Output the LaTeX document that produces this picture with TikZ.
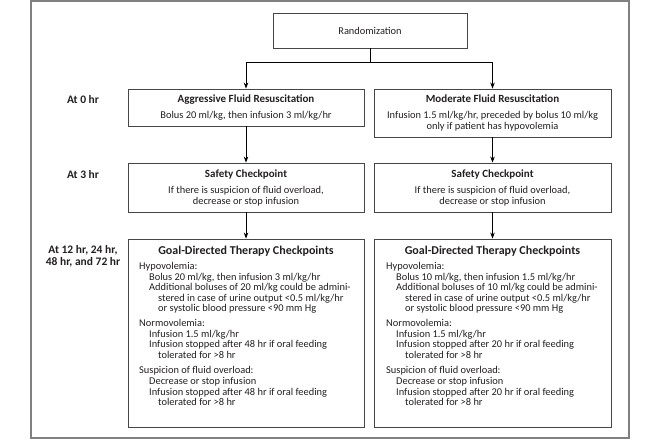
\documentclass[tikz,border=0pt]{standalone}
\usepackage{fontspec}
\setmainfont{Carlito}
\usetikzlibrary{arrows.meta}
\definecolor{framec}{RGB}{128,128,128}
\definecolor{boxc}{RGB}{70,70,70}
\definecolor{txt}{RGB}{35,31,32}
\newcommand{\ttl}[1]{{\fontsize{11}{11}\selectfont\bfseries #1}}
\begin{document}
\begin{tikzpicture}[x=1pt,y=-1pt, font=\fontsize{10.4}{11}\selectfont, text=txt,
  box/.style={draw=boxc, line width=0.9pt, inner sep=0pt, align=center},
  arr/.style={draw=black, line width=0.7pt, -{Stealth[length=6pt,width=4.5pt]}},
  lbl/.style={font=\fontsize{11.5}{12.5}\selectfont\bfseries, align=center, inner sep=0pt},
  gtitle/.style={font=\fontsize{12}{12}\selectfont\bfseries, anchor=base, inner sep=0pt},
  gbody/.style={anchor=north west, align=left, inner sep=0pt, font=\fontsize{10.4}{10.6}\selectfont}]
\useasboundingbox (0,0) rectangle (660,440);
\draw[framec, line width=1.6pt] (31,1) rectangle (629,438);

% top
\node[box, minimum width=194pt, minimum height=35pt] (r) at (370,30.5) {Randomization};
\coordinate (j) at (370,62);

% row 1
\node[box, minimum width=236pt, minimum height=37pt] (a1) at (246,107.5)
  {\ttl{Aggressive Fluid Resuscitation}\\[5pt]Bolus 20 ml/kg, then infusion 3 ml/kg/hr};
\node[box, minimum width=237pt, minimum height=48pt] (b1) at (492.5,113)
  {\ttl{Moderate Fluid Resuscitation}\\[5pt]Infusion 1.5 ml/kg/hr, preceded by bolus 10 ml/kg\\only if patient has hypovolemia};

% row 2
\node[box, minimum width=236pt, minimum height=49pt] (a2) at (246,187.5)
  {\ttl{Safety Checkpoint}\\[5pt]If there is suspicion of fluid overload,\\decrease or stop infusion};
\node[box, minimum width=237pt, minimum height=49pt] (b2) at (492.5,187.5)
  {\ttl{Safety Checkpoint}\\[5pt]If there is suspicion of fluid overload,\\decrease or stop infusion};

% row 3
\node[box, minimum width=236pt, minimum height=188pt] (a3) at (246,333) {};
\node[box, minimum width=237pt, minimum height=188pt] (b3) at (492.5,333) {};
\node[gtitle] (a3t) at (246,254) {Goal-Directed Therapy Checkpoints};
\node[gtitle] (b3t) at (492.5,254) {Goal-Directed Therapy Checkpoints};
\node[gbody] (a3b) at (139,262) {Hypovolemia:\\
\hspace*{10pt}Bolus 20 ml/kg, then infusion 3 ml/kg/hr\\
\hspace*{10pt}Additional boluses of 20 ml/kg could be admini-\\
\hspace*{19pt}stered in case of urine output <0.5 ml/kg/hr\\
\hspace*{19pt}or systolic blood pressure <90 mm Hg\\[4pt]
Normovolemia:\\
\hspace*{10pt}Infusion 1.5 ml/kg/hr\\
\hspace*{10pt}Infusion stopped after 48 hr if oral feeding\\
\hspace*{19pt}tolerated for >8 hr\\[5pt]
Suspicion of fluid overload:\\
\hspace*{10pt}Decrease or stop infusion\\
\hspace*{10pt}Infusion stopped after 48 hr if oral feeding\\
\hspace*{19pt}tolerated for >8 hr};
\node[gbody] (b3b) at (386,262) {Hypovolemia:\\
\hspace*{10pt}Bolus 10 ml/kg, then infusion 1.5 ml/kg/hr\\
\hspace*{10pt}Additional boluses of 10 ml/kg could be admini-\\
\hspace*{19pt}stered in case of urine output <0.5 ml/kg/hr\\
\hspace*{19pt}or systolic blood pressure <90 mm Hg\\[4pt]
Normovolemia:\\
\hspace*{10pt}Infusion 1.5 ml/kg/hr\\
\hspace*{10pt}Infusion stopped after 20 hr if oral feeding\\
\hspace*{19pt}tolerated for >8 hr\\[5pt]
Suspicion of fluid overload:\\
\hspace*{10pt}Decrease or stop infusion\\
\hspace*{10pt}Infusion stopped after 20 hr if oral feeding\\
\hspace*{19pt}tolerated for >8 hr};

% labels
\node[lbl] (l0) at (83,100) {At 0 hr};
\node[lbl] (l3) at (83,174) {At 3 hr};
\node[lbl] (l12) at (83,256) {At 12 hr, 24 hr,\\48 hr, and 72 hr};

% connectors
\draw[draw=black, line width=0.7pt] (r.south) -- (j);
\draw[arr] (j) -| (a1.north);
\draw[arr] (j) -| (b1.north);
\draw[arr] (a1) -- (a2);
\draw[arr] (b1) -- (b2);
\draw[arr] (a2) -- (a3);
\draw[arr] (b2) -- (b3);
\end{tikzpicture}
\end{document}
